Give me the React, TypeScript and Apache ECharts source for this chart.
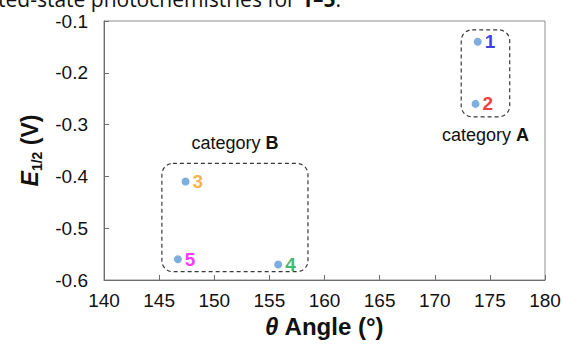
import React, { useEffect, useRef } from "react";
import * as echarts from "echarts";

const pointLabels = ["1", "2", "3", "4", "5"];
const angles = [173.9, 173.7, 147.4, 155.8, 146.7];
const potentials = [-0.14, -0.26, -0.41, -0.57, -0.56];
const labelColors = ["#0a0ae6", "#ee0a0a", "#f5a01a", "#0aa84a", "#ff00ff"];

const xTicks = { min: 140, max: 180, interval: 5 };
const yTicks = { min: -0.6, max: -0.1, interval: 0.1 };

// category boxes in data space: [xFrom, yTop, xTo, yBottom]
const categoryNames = ["A", "B"];
const categoryBoxes = [
  [172.4, -0.117, 176.8, -0.285],
  [145.25, -0.375, 158.5, -0.584],
];
const categoryLabelSide = ["below", "above"];

export default function App() {
  const ref = useRef<HTMLDivElement>(null);
  useEffect(() => {
    if (!ref.current) return;
    const chart = echarts.init(ref.current, null, { renderer: "svg" });
    const font = "Liberation Sans, Arial, sans-serif";
    chart.setOption({
      animation: false,
      backgroundColor: "#ffffff",
      grid: {
        left: 104,
        top: 21,
        right: 18,
        bottom: 64,
        show: true,
        borderColor: "#8c8c8c",
        borderWidth: 1,
        outerBoundsMode: "none",
        containLabel: false,
      },
      xAxis: {
        type: "value",
        min: xTicks.min,
        max: xTicks.max,
        interval: xTicks.interval,
        splitLine: { show: false },
        axisLine: { show: true, lineStyle: { color: "#6e6e6e", width: 1 } },
        axisTick: { show: true, inside: true, length: 5, lineStyle: { color: "#6e6e6e" } },
        axisLabel: { fontFamily: font, fontSize: 19, color: "#111", margin: 11 },
        name: "{i|θ}{b| Angle (°)}",
        nameLocation: "middle",
        nameGap: 32,
        nameTextStyle: {
          rich: {
            i: { fontFamily: font, fontSize: 24, fontWeight: "bold", fontStyle: "italic", color: "#111" },
            b: { fontFamily: font, fontSize: 24, fontWeight: "bold", color: "#111" },
          },
        },
      },
      yAxis: {
        type: "value",
        min: yTicks.min,
        max: yTicks.max,
        interval: yTicks.interval,
        splitLine: { show: false },
        axisLine: { show: true, lineStyle: { color: "#6e6e6e", width: 1 } },
        axisTick: { show: true, inside: true, length: 5, lineStyle: { color: "#6e6e6e" } },
        axisLabel: {
          fontFamily: font,
          fontSize: 19,
          color: "#111",
          margin: 16,
          formatter: (v: number) => v.toFixed(1),
        },
        name: "{i|E}{s|1/2}{b| (V)}",
        nameLocation: "middle",
        nameRotate: 90,
        nameGap: 49,
        nameTextStyle: {
          rich: {
            i: { fontFamily: font, fontSize: 23, fontWeight: "bold", fontStyle: "italic", color: "#111", lineHeight: 28, verticalAlign: "middle" },
            s: { fontFamily: font, fontSize: 14, fontWeight: "bold", color: "#111", lineHeight: 14, verticalAlign: "bottom" },
            b: { fontFamily: font, fontSize: 23, fontWeight: "bold", color: "#111", lineHeight: 28, verticalAlign: "middle" },
          },
        },
      },
      graphic: [
        {
          type: "text",
          left: -2,
          top: -12,
          style: {
            text: "{n|ted-state photochemistries for }{b|1–5}{n|.}",
            rich: {
              n: { fontFamily: "Open Sans, sans-serif", fontSize: 21, fill: "#111" },
              b: { fontFamily: "Open Sans, sans-serif", fontSize: 21, fontWeight: "bold", fill: "#111" },
            },
          },
        },
      ],
      series: [
        {
          type: "custom",
          clip: false,
          z: 1,
          encode: { x: [0, 2], y: [1, 3] },
          data: categoryBoxes.map((b, i) => [b[0], b[1], b[2], b[3], i]),
          renderItem: (params: any, api: any) => {
            const idx = api.value(4);
            const p1 = api.coord([api.value(0), api.value(1)]);
            const p2 = api.coord([api.value(2), api.value(3)]);
            const x = Math.min(p1[0], p2[0]);
            const y = Math.min(p1[1], p2[1]);
            const w = Math.abs(p2[0] - p1[0]);
            const h = Math.abs(p2[1] - p1[1]);
            const above = categoryLabelSide[idx] === "above";
            return {
              type: "group",
              children: [
                {
                  type: "rect",
                  shape: { x, y, width: w, height: h, r: 11 },
                  style: { fill: "none", stroke: "#3a3a3a", lineWidth: 1.2, lineDash: [4, 3] },
                },
                {
                  type: "text",
                  x: x + w / 2,
                  y: above ? y - 20 : y + h + 18,
                  style: {
                    text: "{n|category }{b|" + categoryNames[idx] + "}",
                    align: "center",
                    verticalAlign: "middle",
                    rich: {
                      n: { fontFamily: font, fontSize: 18, fill: "#111" },
                      b: { fontFamily: font, fontSize: 18, fontWeight: "bold", fill: "#111" },
                    },
                  },
                },
              ],
            };
          },
        },
        {
          type: "scatter",
          z: 3,
          symbolSize: 8,
          itemStyle: { color: "#5b9bd5" },
          data: angles.map((a, i) => ({
            value: [a, potentials[i]],
            label: {
              show: true,
              position: "right",
              distance: 3,
              formatter: pointLabels[i],
              fontFamily: font,
              fontSize: 19,
              fontWeight: "bold",
              color: labelColors[i],
            },
          })),
        },
      ],
    });
    return () => chart.dispose();
  }, []);
  return (
    <div
      ref={ref}
      style={{ position: "fixed", left: 0, top: 0, width: 563, height: 344, background: "#fff" }}
    />
  );
}
